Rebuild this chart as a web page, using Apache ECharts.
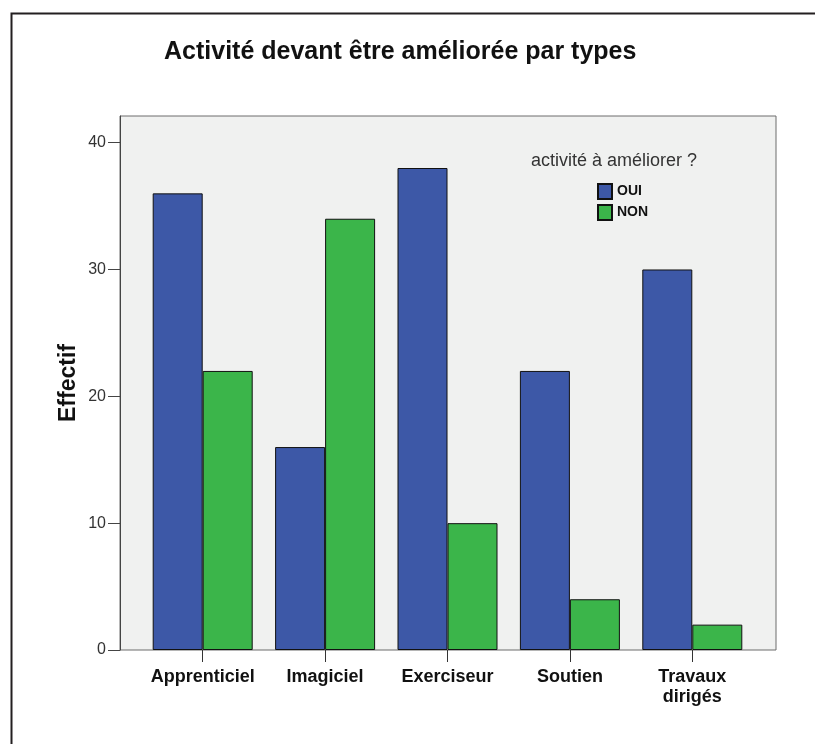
<!DOCTYPE html>
<html>
<head>
<meta charset="utf-8">
<script src="https://cdn.jsdelivr.net/npm/echarts@6/dist/echarts.min.js"></script>
<style>
html,body{margin:0;padding:0;background:#fff;}
#chart{width:815px;height:744px;}
</style>
</head>
<body>
<div id="chart"></div>
<script>
var categories = ['Apprenticiel', 'Imagiciel', 'Exerciseur', 'Soutien', 'Travaux\ndirigés'];
var seriesNames = ['OUI', 'NON'];
var ouiValues = [36, 16, 38, 22, 30];
var nonValues = [22, 34, 10, 4, 2];
var yTicks = [0, 10, 20, 30, 40];
var yMax = 42.1;

var FONT = '"Liberation Sans", Arial, sans-serif';
var chart = echarts.init(document.getElementById('chart'));
chart.setOption({
  animation: false,
  backgroundColor: '#ffffff',
  graphic: [{
    type: 'rect', left: 9, top: 11, silent: true,
    shape: { width: 830, height: 760 },
    style: { fill: 'none', stroke: '#231f20', lineWidth: 2 }
  }],
  title: [{
    text: 'Activité devant être améliorée par types',
    left: 164, top: 40, padding: 0,
    textStyle: { fontFamily: FONT, fontSize: 25, fontWeight: 'bold', color: '#111' }
  }, {
    text: 'activité à améliorer ?',
    left: 531, top: 152, padding: 0,
    textStyle: { fontFamily: FONT, fontSize: 18, fontWeight: 'normal', color: '#333' }
  }],
  legend: {
    data: seriesNames,
    orient: 'vertical',
    left: 597, top: 183, padding: 0,
    itemWidth: 14, itemHeight: 15, itemGap: 4,
    icon: 'rect',
    textStyle: { fontFamily: FONT, fontSize: 14, fontWeight: 'bold', color: '#111' }
  },
  grid: [{
    left: 120, right: 39, top: 116, bottom: 94,
    show: true, backgroundColor: '#f0f1f0', borderColor: '#6d6d6d', borderWidth: 1
  }, {
    left: 141.5, right: 61.5, top: 116, bottom: 94
  }],
  xAxis: [{
    gridIndex: 0, type: 'category', data: categories, show: false
  }, {
    gridIndex: 1, type: 'category', data: categories,
    axisLine: { show: false },
    axisTick: { show: true, alignWithLabel: true, interval: 0, length: 12, lineStyle: { color: '#333', width: 1 } },
    axisLabel: { interval: 0, margin: 17, fontFamily: FONT, fontSize: 18, fontWeight: 'bold', color: '#111', lineHeight: 20 }
  }],
  yAxis: [{
    gridIndex: 0, type: 'value', min: 0, max: yMax,
    name: 'Effectif', nameLocation: 'middle', nameGap: 40, nameRotate: 90, nameMoveOverlap: false,
    nameTextStyle: { fontFamily: FONT, fontSize: 23, fontWeight: 'bold', color: '#111' },
    axisLine: { show: true, lineStyle: { color: '#444', width: 1 } },
    axisTick: { show: true, length: 12, customValues: yTicks, lineStyle: { color: '#444' } },
    axisLabel: { margin: 14, customValues: yTicks, fontFamily: FONT, fontSize: 16, color: '#333' },
    splitLine: { show: false }
  }, {
    gridIndex: 1, type: 'value', min: 0, max: yMax, show: false, splitLine: { show: false }
  }],
  series: [{
    name: seriesNames[0], type: 'bar', xAxisIndex: 1, yAxisIndex: 1,
    data: ouiValues, barWidth: 50, barGap: '0%',
    itemStyle: { color: '#3d58a7', borderColor: '#111', borderWidth: 1 }
  }, {
    name: seriesNames[1], type: 'bar', xAxisIndex: 1, yAxisIndex: 1,
    data: nonValues, barWidth: 50, barGap: '0%',
    itemStyle: { color: '#3bb54a', borderColor: '#111', borderWidth: 1 }
  }]
});
</script>
</body>
</html>
